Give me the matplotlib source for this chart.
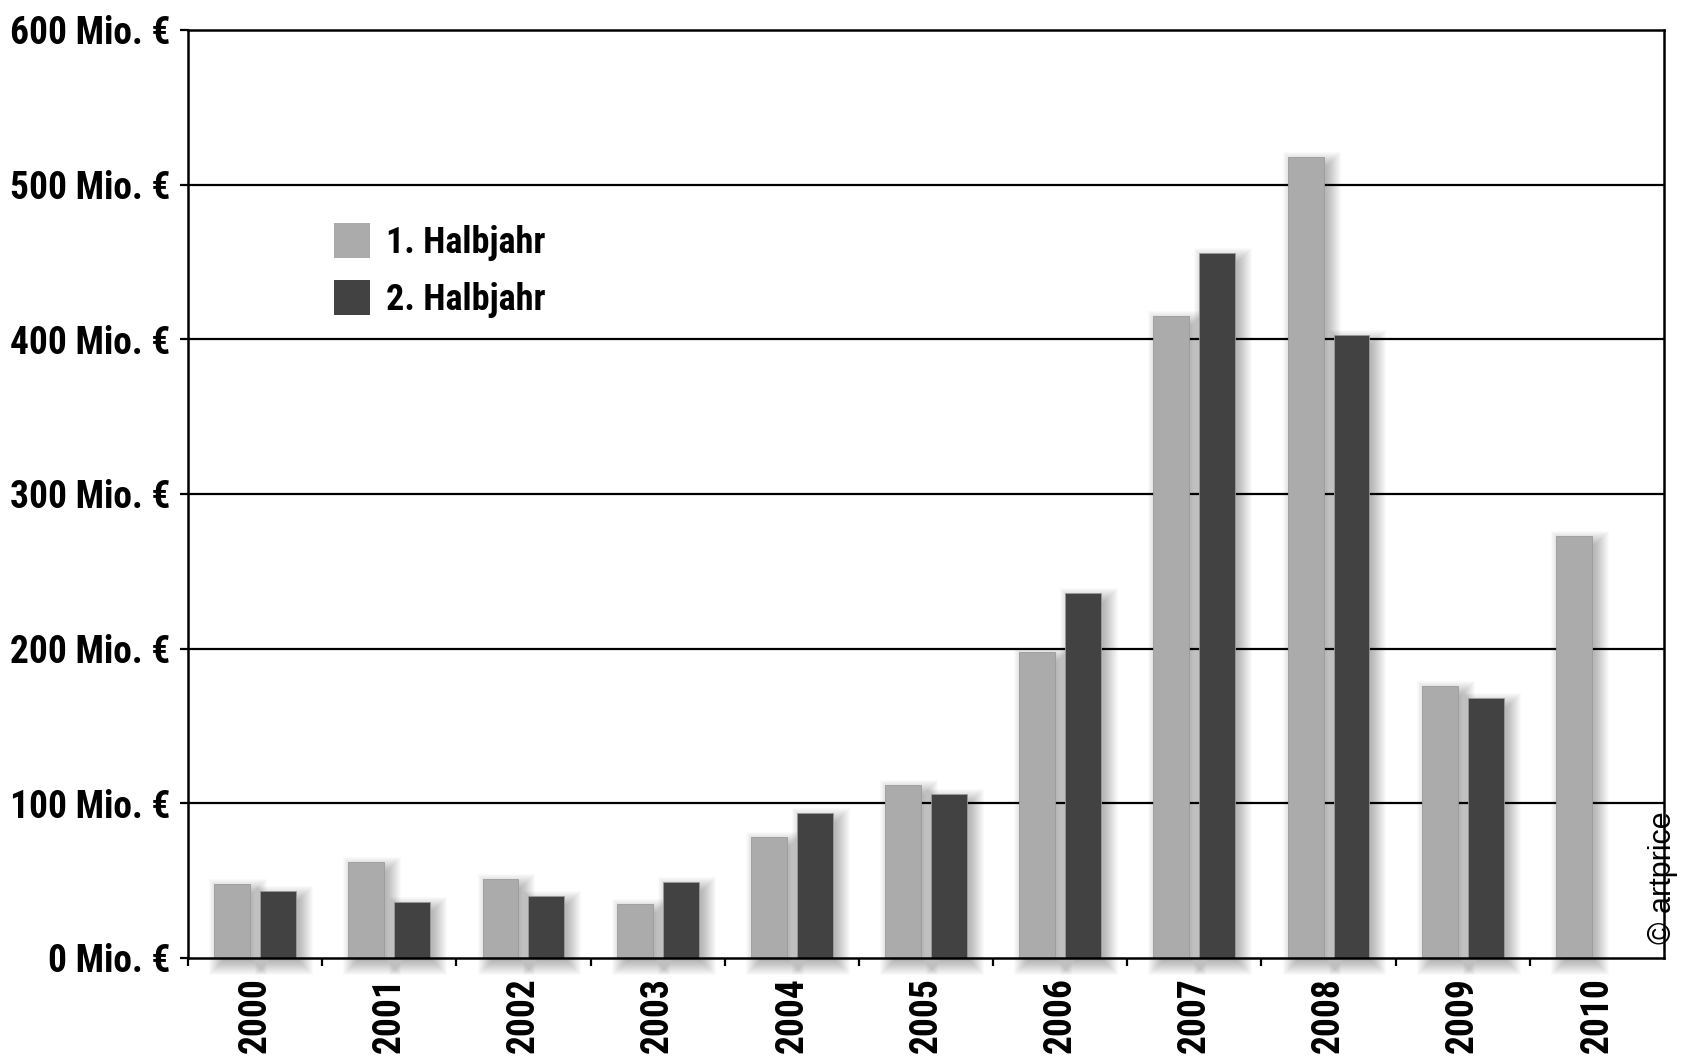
import matplotlib
matplotlib.use("Agg")
import matplotlib.pyplot as plt
from matplotlib import font_manager
from matplotlib.patches import Rectangle

jahre = ["2000", "2001", "2002", "2003", "2004", "2005", "2006", "2007", "2008", "2009", "2010"]
halbjahr1 = [48, 62, 51, 35, 78, 112, 198, 415, 518, 176, 273]
halbjahr2 = [43, 36, 40, 49, 94, 106, 236, 456, 403, 168, None]
y_ticks = [0, 100, 200, 300, 400, 500, 600]
y_labels = [f"{v} Mio. €" for v in y_ticks]

hell = "#ababab"
dunkel = "#424242"

vorhanden = {f.name for f in font_manager.fontManager.ttflist}
fett = [n for n in ["Roboto Condensed", "Archivo Narrow", "Barlow Condensed"] if n in vorhanden]
fett = fett[:1] + ["DejaVu Sans"]
normal = [n for n in ["Arimo", "Liberation Sans"] if n in vorhanden][:1] + ["DejaVu Sans"]

W, H = 1688, 1060
fig = plt.figure(figsize=(W / 100, H / 100), dpi=100)
# axes box in pixels: left 188, right 1664, top 30, bottom 958
ax = fig.add_axes([188 / W, (H - 958) / H, 1476 / W, 928 / H])
ax.set_xlim(-0.5, 10.5)
ax.set_ylim(0, 600)

px_x = 1476 / 11.0
px_y = 928 / 600.0

breite = 0.268
versatz = 0.171


def schatten(x0, h):
    # soft drop shadow, built from stacked transparent rectangles
    dx, dy = 6 / px_x, 6 / px_y
    for s in range(-3, 12):
        gx, gy = s / px_x, s / px_y
        ax.add_patch(Rectangle((x0 + dx - gx, -dy - gy), breite + 2 * gx, h + 2 * gy,
                               facecolor="black", edgecolor="none", alpha=0.018,
                               zorder=2, clip_on=False))


for i, (a, b) in enumerate(zip(halbjahr1, halbjahr2)):
    for wert, pos, farbe in ((a, i - versatz, hell), (b, i + versatz, dunkel)):
        if wert is None:
            continue
        schatten(pos - breite / 2, wert)
        ax.bar(pos, wert, width=breite, color=farbe, edgecolor="#9a9a9a", linewidth=0.6,
               zorder=3)

for v in y_ticks[1:-1]:
    ax.axhline(v, color="black", lw=1.6, zorder=1)

for s in ax.spines.values():
    s.set_linewidth(1.8)
    s.set_zorder(4)

ax.set_yticks(y_ticks)
ax.set_yticklabels(y_labels, fontsize=27, fontweight="bold", family=fett)
ax.tick_params(axis="y", direction="out", length=6, width=1.6, pad=7)

ax.set_xticks(range(len(jahre)))
ax.set_xticklabels(jahre, rotation=90, fontsize=27, fontweight="bold", family=fett)
ax.tick_params(axis="x", which="major", length=0, pad=14)
ax.set_xticks([i - 0.5 for i in range(len(jahre))], minor=True)
ax.tick_params(axis="x", which="minor", direction="out", length=6, width=1.6)

h1 = Rectangle((0, 0), 1, 1, facecolor=hell, edgecolor="none")
h2 = Rectangle((0, 0), 1, 1, facecolor=dunkel, edgecolor="none")
leg = ax.legend([h1, h2], ["1. Halbjahr", "2. Halbjahr"], loc="upper left",
                bbox_to_anchor=(0.099, 0.792), frameon=False, handlelength=1.0,
                handleheight=1.1, handletextpad=0.45, labelspacing=0.55,
                borderpad=0, borderaxespad=0,
                prop={"family": fett, "weight": "bold", "size": 26})

fig.text(1663 / W, (H - 878) / H, "© artprice", rotation=90, ha="center", va="center",
         fontsize=22, family=normal)

fig.savefig("out.png", dpi=100, facecolor="white")
